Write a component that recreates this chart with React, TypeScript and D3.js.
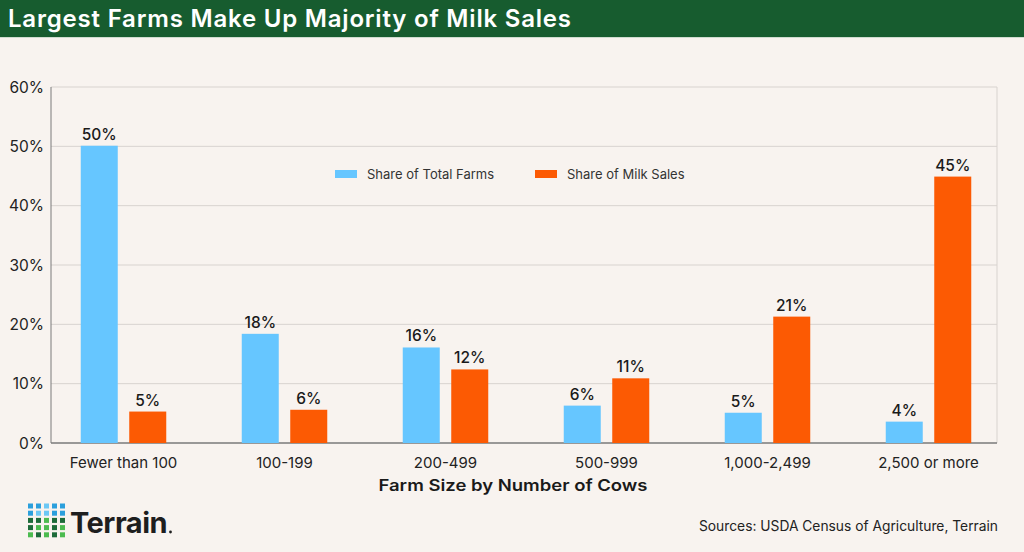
import * as d3 from 'd3';

const categories = ['Fewer than 100', '100-199', '200-499', '500-999', '1,000-2,499', '2,500 or more'];
const shareOfFarms = [50.1, 18.4, 16.1, 6.3, 5.1, 3.6];
const shareOfSales = [5.3, 5.6, 12.4, 10.9, 21.3, 44.9];
const yTicks = [0, 10, 20, 30, 40, 50, 60];
const seriesNames = ['Share of Total Farms', 'Share of Milk Sales'];
const seriesColors = ['#66c6ff', '#fc5a03'];

// logo dot colours, row by row
const logoRows = [
  ['#2b9fdc', '#2b9fdc', '#6cc8f5', '#2b9fdc', '#2b9fdc'],
  ['#2b9fdc', '#6cc8f5', '#6cc8f5', '#2b9fdc', '#2b9fdc'],
  ['#1d6b39', '#1d6b39', '#4cbb4f', '#1d6b39', '#1d6b39'],
  ['#1d6b39', '#4cbb4f', '#4cbb4f', '#1d6b39', '#4cbb4f'],
  ['#4cbb4f', '#1d6b39', '#4cbb4f', '#1d6b39', '#4cbb4f'],
];

const W = 1024;
const H = 552;
const plot = { left: 51, right: 997, top: 87, bottom: 443 };
const font = 'Inter, "Noto Sans", sans-serif';

export default function App() {
  const x = d3.scaleBand<string>().domain(categories).range([43, 1009]);
  const y = d3.scaleLinear().domain([0, 60]).range([plot.bottom, plot.top]);
  const barW = 37;
  const gap = 11.5;
  const fmt = (v: number) => `${Math.round(v)}%`;

  const series = [shareOfFarms, shareOfSales];

  return (
    <svg width={W} height={H} style={{ position: 'absolute', left: 0, top: 0, fontFamily: font }}>
      <rect width={W} height={H} fill="#f8f3ef" />
      <rect width={W} height={37} fill="#175c2f" />
      <rect y={37} width={W} height={1} fill="#cfdccf" />
      <text x={8} y={26.5} fill="#fff" fontSize={24} fontWeight={600} textLength={563} lengthAdjust="spacing">
        Largest Farms Make Up Majority of Milk Sales
      </text>

      {yTicks.map((t) => (
        <g key={t}>
          {t > 0 && (
            <line x1={plot.left} x2={plot.right} y1={y(t)} y2={y(t)} stroke="#d8d3cf" strokeWidth={1} />
          )}
          <text x={44} y={y(t) + 5.5} textAnchor="end" fontSize={15.5} fill="#222">
            {t}%
          </text>
        </g>
      ))}
      <line x1={plot.right} x2={plot.right} y1={plot.top} y2={plot.bottom} stroke="#d8d3cf" />
      <line x1={plot.left} x2={plot.left} y1={plot.top} y2={plot.bottom} stroke="#7a7a7a" />
      <line x1={plot.left} x2={plot.right} y1={plot.bottom} y2={plot.bottom} stroke="#7a7a7a" strokeWidth={1.5} />

      {categories.map((c, i) => {
        const cx = (x(c) ?? 0) + x.bandwidth() / 2;
        return (
          <g key={c}>
            {series.map((vals, s) => {
              const bx = s === 0 ? cx - gap / 2 - barW : cx + gap / 2;
              const v = vals[i];
              return (
                <g key={s}>
                  <rect x={bx} y={y(v)} width={barW} height={y(0) - y(v)} fill={seriesColors[s]} />
                  <text x={bx + barW / 2} y={y(v) - 6} textAnchor="middle" fontSize={15.5} fontWeight={500} fill="#1a1a1a">
                    {fmt(v)}
                  </text>
                </g>
              );
            })}
            <text x={cx} y={467.5} textAnchor="middle" fontSize={15} fill="#222">
              {c}
            </text>
          </g>
        );
      })}

      <text x={513} y={491} textAnchor="middle" fontSize={16} fontWeight={600} fill="#1a1a1a" textLength={269} lengthAdjust="spacingAndGlyphs">
        Farm Size by Number of Cows
      </text>

      {seriesNames.map((n, s) => (
        <g key={n} transform={`translate(${335 + s * 200},174)`}>
          <rect x={0} y={-4} width={22} height={8} fill={seriesColors[s]} />
          <text x={32} y={5} fontSize={13} fill="#333">
            {n}
          </text>
        </g>
      ))}

      {logoRows.map((row, r) =>
        row.map((col, k) => (
          <rect key={`${r}-${k}`} x={28 + k * 8} y={503.5 + r * 7.2} width={5} height={5} fill={col} />
        ))
      )}
      <text x={70} y={533} fontSize={29} fontWeight={700} fill="#1e1e1e" letterSpacing={-0.5}>
        Terrain
      </text>
      <circle cx={170.5} cy={532} r={1.4} fill="#1e1e1e" />

      <text x={998} y={531} textAnchor="end" fontSize={13.8} fill="#222">
        Sources: USDA Census of Agriculture, Terrain
      </text>
    </svg>
  );
}
